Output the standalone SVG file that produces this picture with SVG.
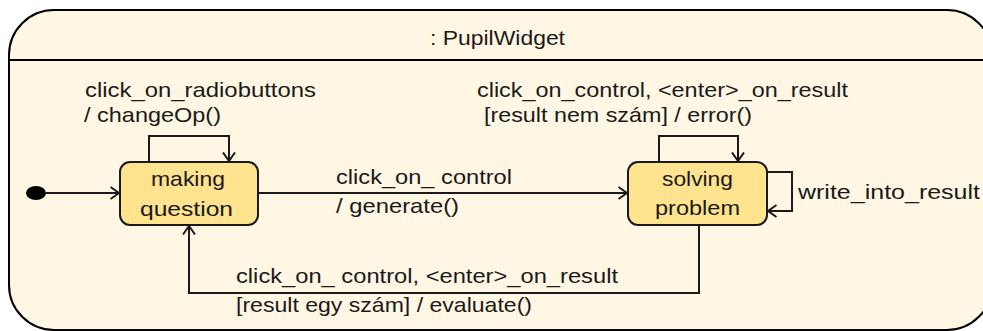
<svg xmlns="http://www.w3.org/2000/svg" width="983" height="331" viewBox="0 0 983 331">
  <style>
    text { font-family: "Liberation Sans", Arial, sans-serif; font-size: 21px; fill: #1a1a1a; }
    .frame { fill: #FFF6E3; stroke: #000; stroke-width: 2; }
    .state { fill: #FFE38F; stroke: #1a1a1a; stroke-width: 2; }
    .conn { fill: none; stroke: #1a1a1a; stroke-width: 2; }
  </style>
  <defs>
    <marker id="open" viewBox="0 0 10 14" refX="9.5" refY="7" markerWidth="10" markerHeight="14" markerUnits="userSpaceOnUse" orient="auto">
      <path d="M1,1 L9.5,7 L1,13" fill="none" stroke="#1a1a1a" stroke-width="2"/>
    </marker>
  </defs>
  <g id="frame">
    <rect class="frame" x="9" y="10" width="983" height="320" rx="45" ry="45"/>
    <line x1="9" y1="60" x2="992" y2="60" stroke="#000" stroke-width="2"/>
    <text x="430" y="45" textLength="135" lengthAdjust="spacingAndGlyphs">: PupilWidget</text>
  </g>
  <g id="initial">
    <ellipse cx="36" cy="193" rx="10" ry="7" fill="#000"/>
  </g>
  <g id="making-question">
    <rect class="state" x="120" y="162" width="138" height="63" rx="10" ry="10"/>
    <text x="151" y="186" textLength="74" lengthAdjust="spacingAndGlyphs">making</text>
    <text x="140" y="216" textLength="93" lengthAdjust="spacingAndGlyphs">question</text>
  </g>
  <g id="solving-problem">
    <rect class="state" x="628" y="162" width="139" height="63" rx="10" ry="10"/>
    <text x="662" y="186" textLength="71" lengthAdjust="spacingAndGlyphs">solving</text>
    <text x="655" y="215" textLength="85" lengthAdjust="spacingAndGlyphs">problem</text>
  </g>
  <g id="connectors">
    <path class="conn" d="M46,193 H119" marker-end="url(#open)"/>
    <path class="conn" d="M149,162 V136 H229 V161" marker-end="url(#open)"/>
    <path class="conn" d="M258,193 H627" marker-end="url(#open)"/>
    <path class="conn" d="M659,162 V136 H738 V161" marker-end="url(#open)"/>
    <path class="conn" d="M767,172 H792 V211 H768" marker-end="url(#open)"/>
    <path class="conn" d="M699,225 V293 H189 V226" marker-end="url(#open)"/>
  </g>
  <g id="labels">
    <text x="85" y="97" textLength="231" lengthAdjust="spacingAndGlyphs">click_on_radiobuttons</text>
    <text x="84" y="122" textLength="137" lengthAdjust="spacingAndGlyphs">/ changeOp()</text>
    <text x="477" y="97" textLength="371" lengthAdjust="spacingAndGlyphs">click_on_control, &lt;enter&gt;_on_result</text>
    <text x="484" y="122" textLength="268" lengthAdjust="spacingAndGlyphs">[result nem szám] / error()</text>
    <text x="336" y="184" textLength="176" lengthAdjust="spacingAndGlyphs">click_on_ control</text>
    <text x="336" y="213" textLength="123" lengthAdjust="spacingAndGlyphs">/ generate()</text>
    <text x="798" y="199" textLength="182" lengthAdjust="spacingAndGlyphs">write_into_result</text>
    <text x="236" y="283" textLength="382" lengthAdjust="spacingAndGlyphs">click_on_ control, &lt;enter&gt;_on_result</text>
    <text x="236" y="312" textLength="296" lengthAdjust="spacingAndGlyphs">[result egy szám] / evaluate()</text>
  </g>
</svg>
